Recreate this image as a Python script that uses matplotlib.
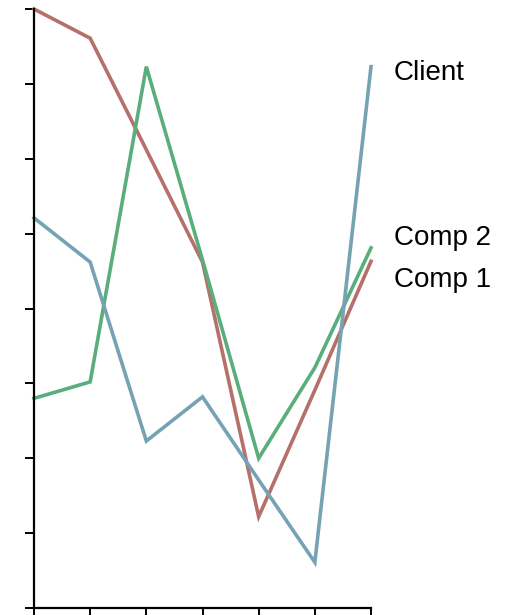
import matplotlib
matplotlib.use("Agg")
import matplotlib.pyplot as plt

# Series values, one point per period
periods = [0, 1, 2, 3, 4, 5, 6]
client = [5.21, 4.62, 2.23, 2.82, 1.71, 0.61, 7.23]
comp1 = [8.00, 7.61, 6.12, 4.62, 1.22, 2.91, 4.63]
comp2 = [2.80, 3.02, 7.23, 4.65, 2.00, 3.21, 4.81]
series_names = ["Client", "Comp 1", "Comp 2"]
y_ticks = [0, 1, 2, 3, 4, 5, 6, 7, 8]

colors = {"Client": "#76a3b4", "Comp 1": "#b5706a", "Comp 2": "#5aae7c"}
# end-label offsets (pixels) so labels do not collide
label_offsets = {"Client": (23, -13), "Comp 1": (23, -26), "Comp 2": (23, 3)}

plt.rcParams["font.family"] = ["Liberation Sans", "DejaVu Sans"]

fig = plt.figure(figsize=(5.18, 6.15), dpi=100)
W, H = 518, 615
ax = fig.add_axes([34 / W, 7 / H, (371 - 34) / W, (608 - 9) / H])

data = {"Client": client, "Comp 1": comp1, "Comp 2": comp2}
for name in ["Comp 1", "Comp 2", "Client"]:
    vals = data[name]
    ax.plot(periods, vals, color=colors[name], lw=2.6, solid_joinstyle="miter",
            clip_on=False)
    ax.annotate(name, xy=(periods[-1], vals[-1]), xytext=label_offsets[name],
                textcoords="offset pixels", fontsize=20, color="black",
                ha="left", va="baseline", annotation_clip=False)

ax.set_xlim(periods[0], periods[-1])
ax.set_ylim(y_ticks[0], y_ticks[-1])
ax.set_xticks(periods)
ax.set_yticks(y_ticks)
ax.set_xticklabels([])
ax.set_yticklabels([])
ax.tick_params(direction="out", length=6.5, width=1.4, color="black")
for side in ["top", "right"]:
    ax.spines[side].set_visible(False)
for side in ["left", "bottom"]:
    ax.spines[side].set_linewidth(1.6)
    ax.spines[side].set_color("black")

fig.savefig("out.png", dpi=100)
